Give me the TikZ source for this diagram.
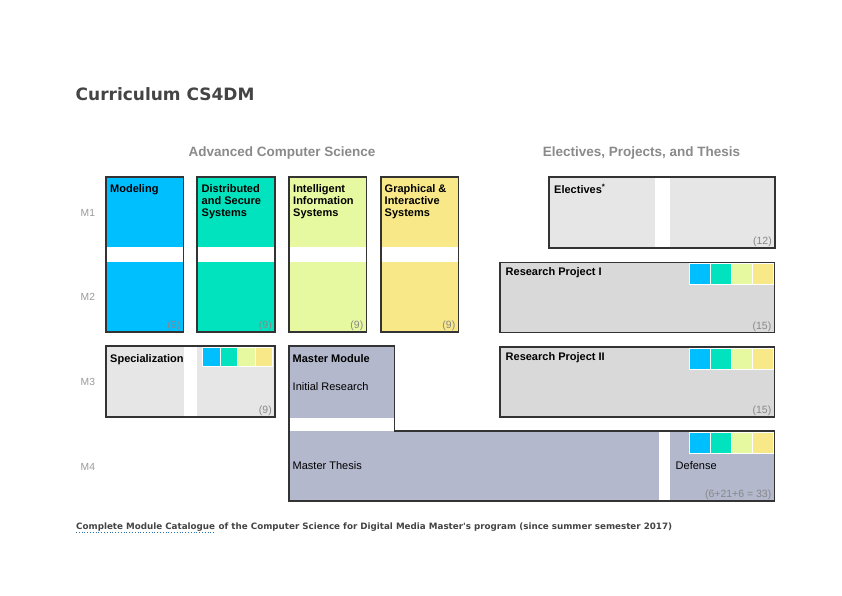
\documentclass[tikz,border=0pt]{standalone}
\usepackage{fontspec}
\setmainfont{Liberation Sans}
\newfontfamily\verd{DejaVu Sans}
\definecolor{cblue}{HTML}{00BFFF}
\definecolor{cgreen}{HTML}{00E3BE}
\definecolor{clime}{HTML}{E6F9A0}
\definecolor{cyell}{HTML}{F8E887}
\definecolor{celect}{HTML}{E6E6E6}
\definecolor{cproj}{HTML}{D9D9D9}
\definecolor{cmaster}{HTML}{B3B8CC}
\definecolor{edgecol}{HTML}{333333}
\definecolor{numcol}{HTML}{888888}
\definecolor{hdrcol}{HTML}{8A8A8A}
\definecolor{rowcol}{HTML}{9A9A9A}
\definecolor{titlecol}{HTML}{444444}
\definecolor{linkcol}{HTML}{2A6FB0}
\tikzset{
  area/.style={inner sep=0pt, outer sep=0pt, anchor=north west, draw=none},
  edge/.style={draw=edgecol, line width=1.1pt},
  gap/.style={fill=white},
  boxlbl/.style={inner sep=0pt, anchor=north west, align=left, font=\fontsize{11}{12}\selectfont\bfseries, text=black},
  plainlbl/.style={inner sep=0pt, anchor=base west, font=\fontsize{11}{12}\selectfont, text=black},
  credit/.style={inner sep=0pt, anchor=base east, font=\fontsize{10.5}{12}\selectfont, text=numcol},
  rowlbl/.style={inner sep=0pt, anchor=base west, font=\fontsize{10.3}{12}\selectfont, text=rowcol},
  hdr/.style={inner sep=0pt, anchor=base, font=\fontsize{13.5}{15}\selectfont\bfseries, text=hdrcol},
  sq/.style={draw=white, line width=1pt},
  captxt/.style={inner sep=0pt, anchor=base west, font=\verd\fontsize{8.75}{10}\selectfont\bfseries, text=titlecol},
}
\begin{document}
\begin{tikzpicture}[x=1pt,y=-1pt]
\useasboundingbox[fill=white] (0,0) rectangle (842,595);

% title
\node[inner sep=0pt, anchor=base west, font=\verd\fontsize{17}{20}\selectfont\bfseries, text=titlecol] (title) at (75.5,100) {Curriculum CS4DM};

% headers
\node[hdr] (hdrA) at (282,156) {Advanced Computer Science};
\node[hdr] (hdrB) at (641.5,156) {Electives, Projects, and Thesis};

% row labels
\node[rowlbl] (m1) at (80.5,216.5) {M1};
\node[rowlbl] (m2) at (80.5,300.5) {M2};
\node[rowlbl] (m3) at (80.5,385.5) {M3};
\node[rowlbl] (m4) at (80.5,470) {M4};

% ---- four columns
\foreach \nm/\xa/\xb/\col in {model/106/183.5/cblue, dist/197/275/cgreen, intel/289/366.5/clime, graph/381/458.5/cyell}{
  \node[area, fill=\col, minimum width=\xb-\xa, minimum height=155] (\nm) at (\xa,177) {};
  \fill[gap] (\xa,247) rectangle (\xb,261.5);
  \draw[edge] (\nm.north west) rectangle (\nm.south east);
  \node[credit] at ([xshift=-3pt,yshift=3.5pt]\nm.south east) {(9)};
}
\node[boxlbl] (tmodel) at (110,184.1) {Modeling};
\node[boxlbl] (tdist) at (201.5,184.1) {Distributed\\and Secure\\Systems};
\node[boxlbl] (tintel) at (293,184.1) {Intelligent\\Information\\Systems};
\node[boxlbl] (tgraph) at (384.5,184.1) {Graphical \&\\Interactive\\Systems};

% ---- electives
\node[area, fill=celect, minimum width=226, minimum height=71] (elect) at (549,177) {};
\fill[gap] (655,177) rectangle (669.5,248);
\draw[edge] (elect.north west) rectangle (elect.south east);
\node[boxlbl] (telect) at (554,184.1) {Electives\textsuperscript{*}};
\node[credit] at ([xshift=-3pt,yshift=3.5pt]elect.south east) {(12)};

% ---- research project I
\node[area, fill=cproj, minimum width=274.5, minimum height=70] (rp1) at (500,262.5) {};
\draw[edge] (rp1.north west) rectangle (rp1.south east);
\node[boxlbl] (trp1) at (505.5,267.6) {Research Project I};
\node[credit] at ([xshift=-3pt,yshift=3.5pt]rp1.south east) {(15)};

% ---- research project II
\node[area, fill=cproj, minimum width=274.5, minimum height=70] (rp2) at (500,347) {};
\draw[edge] (rp2.north west) rectangle (rp2.south east);
\node[boxlbl] (trp2) at (505.5,352.1) {Research Project II};
\node[credit] at ([xshift=-3pt,yshift=3.5pt]rp2.south east) {(15)};

% ---- specialization
\node[area, fill=celect, minimum width=169, minimum height=71] (spec) at (106,346) {};
\fill[gap] (183.5,346) rectangle (197,417);
\draw[edge] (spec.north west) rectangle (spec.south east);
\node[boxlbl] (tspec) at (110,354.6) {Specialization};
\node[credit] at ([xshift=-3pt,yshift=3.5pt]spec.south east) {(9)};

% ---- master module (L shape)
\coordinate (mmA) at (289,346);
\coordinate (mmB) at (394.5,346);
\coordinate (mmC) at (394.5,431);
\coordinate (mmD) at (774.5,431);
\coordinate (mmE) at (774.5,501);
\coordinate (mmF) at (289,501);
\fill[cmaster] (mmA) -- (mmB) -- (mmC) -- (mmD) -- (mmE) -- (mmF) -- cycle;
\fill[gap] (289,417.5) rectangle (394.5,431);
\fill[gap] (659,431) rectangle (669.5,501);
\draw[edge] (mmA) -- (mmB) -- (mmC) -- (mmD) -- (mmE) -- (mmF) -- cycle;
\node[boxlbl] (tmm) at (292.5,354.6) {Master Module};
\node[plainlbl] (tinit) at (292.5,390) {Initial Research};
\node[plainlbl] (tthesis) at (292.5,469) {Master Thesis};
\node[plainlbl] (tdef) at (675.5,469) {Defense};
\node[credit] (tsum) at (771.5,497.5) {(6+21+6 = 33)};

% ---- colour squares
\foreach \y in {263.5, 348, 432.5}{
  \foreach \i/\col in {0/cblue,1/cgreen,2/clime,3/cyell}{
    \filldraw[sq, fill=\col] (689+\i*21,\y) rectangle (689+\i*21+21,\y+21);
  }
}
\foreach \i/\col in {0/cblue,1/cgreen,2/clime,3/cyell}{
  \filldraw[sq, fill=\col] (202.5+\i*17.5,347) rectangle (202.5+\i*17.5+17.5,366);
}

% caption
\node[captxt] (link) at (76,529.5) {Complete Module Catalogue};
\node[captxt] (rest) at (link.base east) {\ of the Computer Science for Digital Media Master's program (since summer semester 2017)};
\draw[linkcol, dotted, line width=0.8pt] ([yshift=-3pt]link.base west) -- ([yshift=-3pt]link.base east);
\end{tikzpicture}
\end{document}
